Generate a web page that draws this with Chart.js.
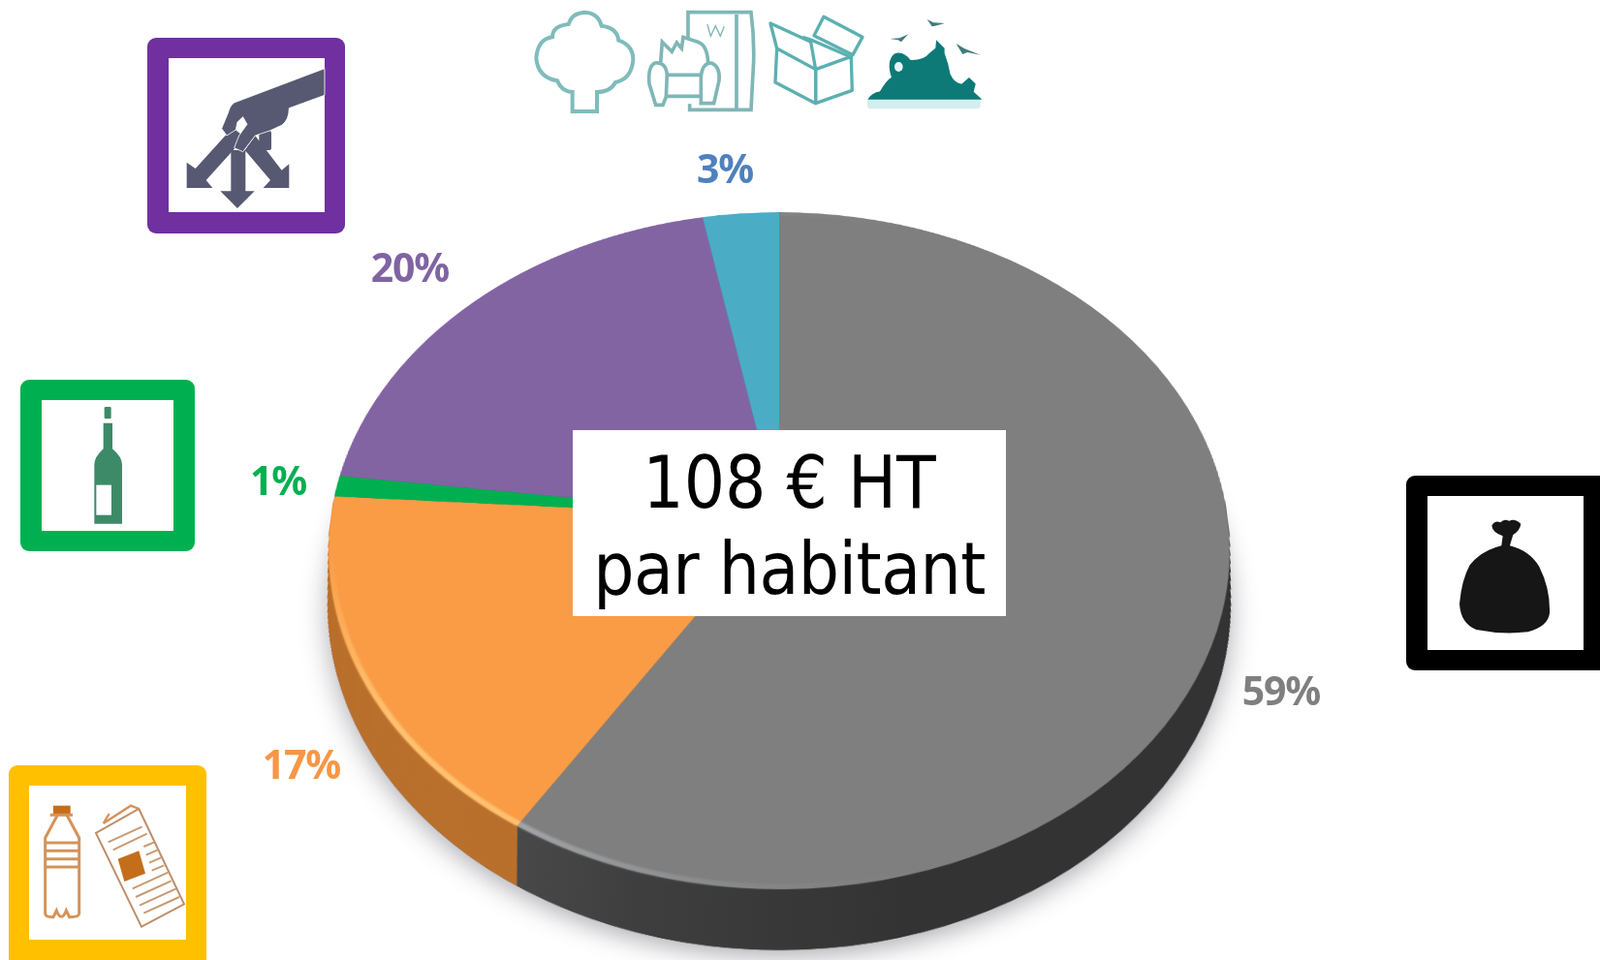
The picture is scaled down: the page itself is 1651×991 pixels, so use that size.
<!DOCTYPE html>
<html>
<head>
<meta charset="utf-8">
<title>108 € HT par habitant</title>
<script src="https://cdn.jsdelivr.net/npm/chart.js@4/dist/chart.umd.min.js"></script>
<style>
html, body { margin: 0; padding: 0; background: #fff; }
#page { position: relative; width: 1651px; height: 991px; overflow: hidden; background: #fff; }
/* the tilt of the pie is a projective transform, origin on the pie centre */
#wrap { position: absolute; left: 254px; top: -66px; width: 1100px; height: 1200px;
  transform-origin: 550px 600px;
  transform: matrix3d(0.995,0,0,0, 0,0.744,0,-0.0002125, 0,0,1,0, 0,0,0,1); }
#icons { position: absolute; left: 0; top: 0; }
.pct { position: absolute; font-family: "Noto Sans", sans-serif; font-weight: 700; font-size: 41px;
  line-height: 50px; height: 50px; white-space: nowrap; transform: translate(-50%, -50%); letter-spacing: -1.2px; }
#box { position: absolute; left: 591px; top: 444px; width: 447px; height: 192px; background: #fff; }
.big { position: absolute; left: 0; width: 100%; text-align: center; color: #000;
  font-family: "DejaVu Sans Condensed", "DejaVu Sans", sans-serif; font-size: 74px; line-height: 90px; white-space: nowrap; }
</style>
</head>
<body>
<div id="page">
  <div id="wrap"><canvas id="myChart" width="1100" height="1200"></canvas></div>

  <svg id="icons" width="1651" height="991" xmlns="http://www.w3.org/2000/svg">
    <defs><filter id="soft" x="-5%" y="-5%" width="110%" height="110%"><feGaussianBlur stdDeviation="0.7"/></filter></defs>
    <!-- frames -->
    <rect x="152" y="39" width="204" height="202" rx="9" fill="#7030a0"/><rect x="174" y="60" width="161" height="159" fill="#fff"/>
    <rect x="21" y="392" width="180" height="177" rx="9" fill="#00b050"/><rect x="43" y="413" width="136" height="135" fill="#fff"/>
    <rect x="9" y="790" width="204" height="210" rx="9" fill="#ffc000"/><rect x="30" y="811" width="162" height="159" fill="#fff"/>
    <rect x="1451" y="491" width="220" height="201" rx="9" fill="#000"/><rect x="1473" y="512" width="161" height="159" fill="#fff"/>

    <!-- hand and arrows -->
    <g transform="translate(130,0) scale(0.3333)" fill="#575872">
      <polygon points="330,395 215,522 188,503 188,582 268,582 248,558 368,425"/>
      <polygon points="400,420 482,527 505,508 505,582 425,582 447,558 368,465"/>
      <polygon points="325,465 370,465 370,592 398,592 345,645 292,592 325,592"/>
      <rect x="412" y="405" width="38" height="60" rx="6"/>
      <path d="M615 212 L335 318 Q322 326 316 350 L296 398 L312 420 L340 402 L345 378 L362 362 L375 385 L350 420 L335 458 L362 470 L400 420 L445 405 L482 388 Q505 372 505 335 L615 295 Z" stroke="#fff" stroke-width="2.5"/>
    </g>

    <!-- top icons -->
    <g transform="translate(530,0) scale(0.3333)" fill="none" filter="url(#soft)">
      <path d="M182 345 V285 Q150 285 135 250 Q75 240 70 180 Q75 120 120 115 Q120 80 170 75 Q180 40 220 38 Q262 40 272 80 Q320 85 325 125 Q370 140 370 185 Q365 245 315 255 Q300 285 258 285 V345 Z" stroke="#7fbcbc" stroke-width="12"/>
      <g stroke="#80b6b6" stroke-width="11">
        <path d="M540 122 V38 H735 Q745 110 743 190 L735 340 H590 M690 45 V345 M545 322 V340 H590"/>
        <path d="M455 195 L460 130 L490 160 L505 132 L520 150 L525 115 L570 130 Q600 140 602 195"/>
        <path d="M438 195 Q470 190 475 230 L472 300 L462 325 H440 L420 260 Q415 205 438 195 Z"/>
        <path d="M612 195 Q585 195 580 235 L580 320 H620 L636 250 Q640 205 612 195 Z"/>
        <path d="M475 232 H580 M475 298 H580"/>
        <path d="M600 75 L610 112 L625 80 L640 112 L652 82" stroke-width="4"/>
      </g>
      <g stroke="#5cb0b1" stroke-width="10" stroke-linejoin="round">
        <polygon points="815,150 935,215 935,320 810,255"/>
        <polygon points="935,215 1045,175 1048,280 935,320"/>
        <path d="M815,150 L795,72 L920,130 L935,215"/>
        <polygon points="960,52 1080,115 1050,170 930,110"/>
        <path d="M895,115 L925,125 L1040,175"/>
      </g>
      <rect x="1095" y="300" width="350" height="37" rx="12" fill="#d3eeee"/>
      <path d="M1100 306 Q1110 290 1135 285 Q1155 250 1172 240 Q1155 190 1180 168 Q1205 158 1228 188 Q1270 190 1290 165 L1308 150 L1310 128 L1332 150 L1332 165 Q1345 200 1350 230 Q1362 258 1388 262 L1410 243 L1428 260 L1422 285 L1445 306 Z" fill="#0d7a78" stroke="#0d7a78" stroke-width="4"/>
      <ellipse cx="1192" cy="207" rx="13" ry="15" fill="#e8f5f5"/>
      <path d="M1165 120 L1195 118 L1222 106 L1200 130 L1190 124 Z M1280 60 L1300 70 L1335 72 L1305 80 L1295 82 Z M1370 135 L1395 150 L1445 170 L1405 162 L1390 168 Z" fill="#3f7c7c"/>
    </g>

    <!-- wine bottle -->
    <g transform="translate(0,380) scale(0.3333)" fill="#3d8a68" filter="url(#soft)">
      <rect x="323" y="120" width="21" height="37" rx="4"/>
      <path d="M320 170 H348 V250 Q378 275 378 300 V482 H292 V300 Q292 275 320 250 Z"/>
      <rect x="298" y="362" width="47" height="93" fill="#fff"/>
    </g>

    <!-- plastic bottle and newspaper -->
    <g transform="translate(0,770) scale(0.3333)" fill="none" stroke="#d5935a" stroke-width="9" filter="url(#soft)">
      <rect x="165" y="185" width="53" height="26" fill="#c46e1f" stroke="none"/>
      <path d="M155 214 H225 M177 216 L140 285 V520 Q140 530 165 530 L175 510 Q190 548 205 510 L215 530 Q245 530 245 520 V285 L208 216"/>
      <path d="M138 300 H245 M138 325 H245 M138 350 H245 M138 375 H245"/>
      <polygon points="297,270 430,195 570,490 438,560" stroke="#bd8f6c" stroke-width="6"/>
      <path d="M320 240 L405 185 L430 195 M338 210 L320 240" stroke-width="7"/>
      <polygon points="365,350 430,325 450,395 385,420" fill="#c46e1f" stroke="none"/>
      <path d="M335 298 L440 250 M350 322 L455 272 M445 312 L478 298 M452 338 L488 322 M462 362 L498 346 M470 386 L508 370 M410 442 L520 392 M420 468 L530 418 M432 494 L545 442 M445 518 L555 468" stroke-width="6" stroke="#c99a72"/>
    </g>

    <!-- bin bag -->
    <g transform="translate(1400,470) scale(0.3333)" filter="url(#soft)">
      <path d="M418 218 Q428 200 445 208 Q455 195 472 203 Q490 195 508 212 Q506 232 484 246 L474 280 Q535 295 565 345 Q600 415 597 490 Q592 530 530 547 Q450 556 370 540 Q322 522 318 460 Q325 385 350 340 Q385 295 448 280 L452 250 Q420 238 418 218 Z" fill="#181818"/>
    </g>
  </svg>

  <div id="box">
    <div class="big" style="top:9px">108 € HT</div>
    <div class="big" style="top:98px;letter-spacing:-0.5px">par habitant</div>
  </div>
  <div id="labels"></div>
</div>

<script>
var categories = ['Ordures ménagères', 'Emballages et papiers', 'Verre', 'Déchèteries', 'Autres'];
var values = [59, 17, 1, 20, 3];

var sliceColors = ['#7f7f7f', '#fa9b46', '#00b050', '#8364a3', '#4bacc6'];
var sideColors = ['#333333', '#b9702c', '#00803a', '#5f4a79', '#37808f'];
var labelColors = ['#7f7f7f', '#f79646', '#00b050', '#8064a2', '#4f81bd'];
var labelSpots = [[1322, 712], [311, 788], [287, 495], [423, 275], [748, 173]];

var depth = 74;

function slicePath(ctx, el, shift, shrink) {
  var r = el.outerRadius * shrink;
  ctx.beginPath();
  ctx.moveTo(el.x, el.y + shift);
  ctx.arc(el.x, el.y + shift, r, el.startAngle, el.endAngle);
  ctx.closePath();
}

var pieSide = {
  id: 'pieSide',
  beforeDatasetsDraw: function(chart) {
    var ctx = chart.ctx;
    var arcs = chart.getDatasetMeta(0).data;
    var cx = arcs[0].x;
    var greyFill = ctx.createLinearGradient(cx - 290, 0, cx + 120, 0);
    greyFill.addColorStop(0, '#5a636b');
    greyFill.addColorStop(0.06, '#4a4a4a');
    greyFill.addColorStop(0.4, '#3e3e3e');
    greyFill.addColorStop(1, '#333333');

    // soft shadow under the bottom of the pie
    ctx.save();
    ctx.shadowColor = 'rgba(70,70,80,0.42)';
    ctx.shadowBlur = 26;
    ctx.shadowOffsetY = 8;
    ctx.fillStyle = '#333';
    ctx.beginPath();
    ctx.arc(cx, arcs[0].y + depth, arcs[0].outerRadius * 0.986, 0, Math.PI * 2);
    ctx.fill();
    ctx.restore();

    for (var d = depth; d > 0; d--) {
      var shrink = 1 - 0.014 * d / depth;
      arcs.forEach(function(el, i) {
        slicePath(ctx, el, d, shrink);
        ctx.fillStyle = i === 0 ? greyFill : sideColors[i];
        ctx.fill();
      });
    }
  },
  afterDatasetsDraw: function(chart) {
    var ctx = chart.ctx;
    var arcs = chart.getDatasetMeta(0).data;
    var grey = arcs[0], orange = arcs[1];
    var rimGrey = ctx.createLinearGradient(grey.x - 280, 0, grey.x + 160, 0);
    rimGrey.addColorStop(0, 'rgba(175,180,185,0.85)');
    rimGrey.addColorStop(1, 'rgba(130,130,130,0)');
    var rimOrange = ctx.createLinearGradient(0, orange.y + 40, 0, orange.y + 260);
    rimOrange.addColorStop(0, 'rgba(255,196,115,0)');
    rimOrange.addColorStop(1, 'rgba(255,196,115,0.95)');
    ctx.save();
    ctx.filter = 'blur(1.2px)';
    ctx.lineWidth = 6;
    ctx.strokeStyle = rimGrey;
    ctx.beginPath();
    ctx.arc(grey.x, grey.y, grey.outerRadius - 3, grey.startAngle, grey.endAngle);
    ctx.stroke();
    ctx.strokeStyle = rimOrange;
    ctx.beginPath();
    ctx.arc(orange.x, orange.y, orange.outerRadius - 3, orange.startAngle, orange.endAngle);
    ctx.stroke();
    ctx.restore();
  }
};

var ctx = document.getElementById('myChart').getContext('2d');
var myChart = new Chart(ctx, {
  type: 'pie',
  data: {
    labels: categories,
    datasets: [{ data: values, backgroundColor: sliceColors, borderWidth: 0 }]
  },
  options: {
    responsive: false,
    animation: false,
    radius: 465,
    plugins: { legend: { display: false }, tooltip: { enabled: false } }
  },
  plugins: [pieSide]
});

var labelBox = document.getElementById('labels');
values.forEach(function(v, i) {
  var el = document.createElement('div');
  el.className = 'pct';
  el.textContent = v + '%';
  el.style.left = labelSpots[i][0] + 'px';
  el.style.top = labelSpots[i][1] + 'px';
  el.style.color = labelColors[i];
  labelBox.appendChild(el);
});
</script>
</body>
</html>
